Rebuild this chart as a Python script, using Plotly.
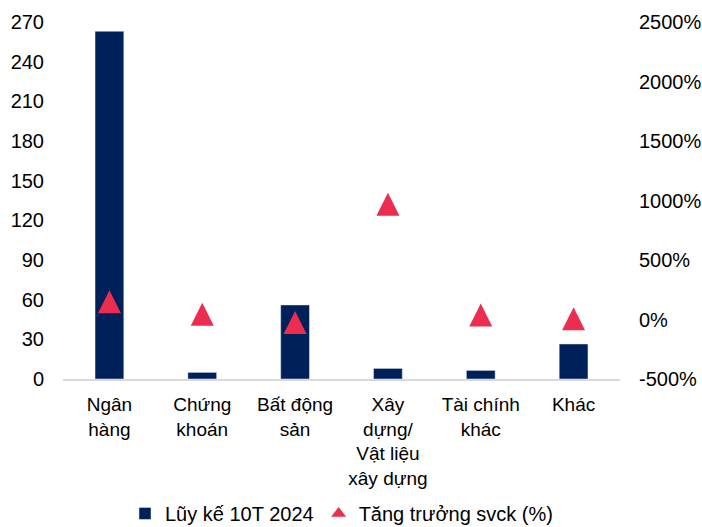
import plotly.graph_objects as go

categories = ["Ngân<br>hàng", "Chứng<br>khoán", "Bất động<br>sản",
              "Xây<br>dựng/<br>Vật liệu<br>xây dựng", "Tài chính<br>khác", "Khác"]
luy_ke_10t_2024 = [263, 5, 56, 8, 6.5, 26.5]
tang_truong_svck = [150, 45, -25, 968, 37, 6]

left_ticks = [0, 30, 60, 90, 120, 150, 180, 210, 240, 270]
right_ticks = [-500, 0, 500, 1000, 1500, 2000, 2500]
right_tick_labels = ["-500%", "0%", "500%", "1000%", "1500%", "2000%", "2500%"]

FONT = "Liberation Sans, Arial, sans-serif"
FS = 20
RED = "#EC2D50"

fig = go.Figure()
fig.add_trace(go.Bar(
    x=categories, y=luy_ke_10t_2024, name="Lũy kế 10T 2024",
    marker=dict(color="#00205A"), width=0.31, yaxis="y",
))
fig.add_trace(go.Scatter(
    x=categories, y=tang_truong_svck, name="Tăng trưởng svck (%)",
    mode="markers", yaxis="y2", legendgroup="g", showlegend=False,
    marker=dict(symbol="arrow-down", angle=180, size=23, standoff=11.5, color=RED),
))
# legend-only entry for the triangle series
fig.add_trace(go.Scatter(
    x=[None], y=[None], name="Tăng trưởng svck (%)",
    mode="markers", yaxis="y2", legendgroup="g", showlegend=True,
    marker=dict(symbol="triangle-up", size=13, color=RED),
))

fig.update_layout(
    width=702, height=527,
    margin=dict(l=63, r=82, t=22, b=148, autoexpand=False),
    plot_bgcolor="white", paper_bgcolor="white",
    font=dict(family=FONT, size=FS, color="#000000"),
    showlegend=True,
    legend=dict(orientation="h", x=0.5, xanchor="center", y=-0.322, yanchor="top",
                font=dict(size=FS), itemwidth=30, tracegroupgap=0,
                bgcolor="rgba(0,0,0,0)"),
    xaxis=dict(showgrid=False, showline=True, linecolor="#d9d9d9", linewidth=2,
               ticks="", tickangle=0, tickfont=dict(size=19), automargin=False,
               ticklabelstandoff=7),
    yaxis=dict(range=[0, 270], tickvals=left_ticks, showgrid=False, zeroline=False,
               showline=False, ticks="", ticklabelstandoff=18, tickfont=dict(size=FS),
               automargin=False),
    yaxis2=dict(range=[-500, 2500], tickvals=right_ticks, ticktext=right_tick_labels,
                overlaying="y", side="right", showgrid=False, zeroline=False,
                showline=False, ticks="", ticklabelstandoff=18, tickfont=dict(size=FS),
                automargin=False),
    bargap=0.69,
)

fig.write_html("out.html", config={"displayModeBar": False},
               post_script="document.body.style.margin='0';document.body.style.overflow='hidden';")
